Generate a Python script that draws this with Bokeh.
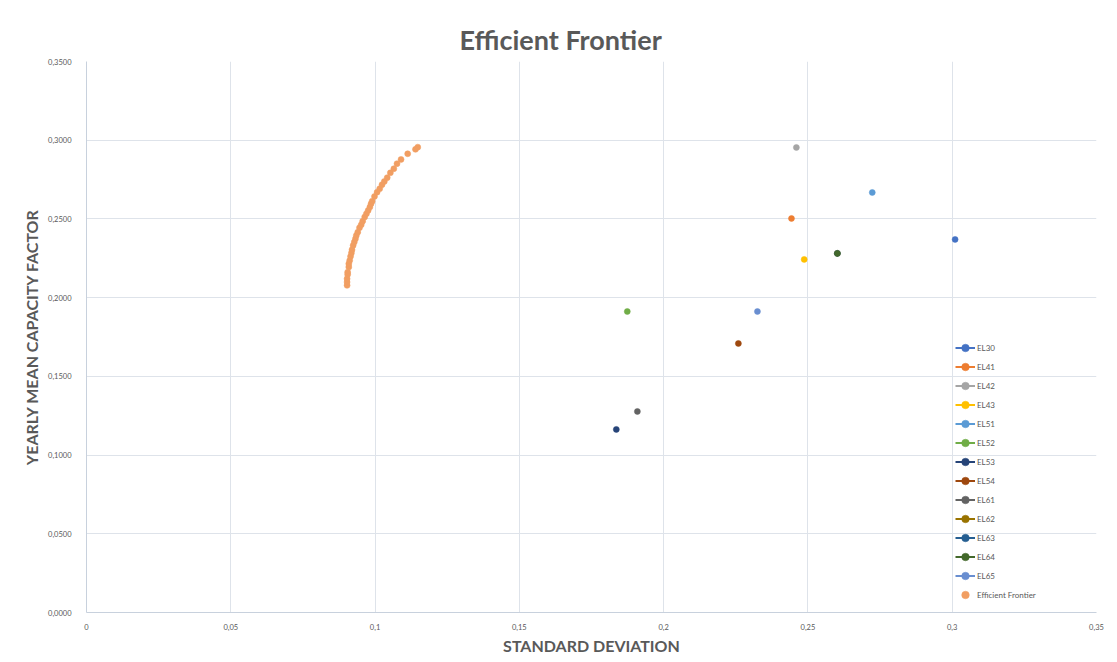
from bokeh.plotting import figure
from bokeh.models import FixedTicker, Range1d, Legend
from bokeh.embed import file_html
from bokeh.resources import INLINE

# ---- data ----
series_names = ["EL30", "EL41", "EL42", "EL43", "EL51", "EL52", "EL53",
                "EL54", "EL61", "EL62", "EL63", "EL64", "EL65"]
series_std = [0.301, 0.2443, 0.246, 0.2487, 0.2723, 0.1874, 0.1836,
              0.2259, 0.1909, 0.2602, 0.2602, 0.2602, 0.2325]
series_mean = [0.237, 0.2503, 0.2954, 0.2243, 0.2668, 0.1912, 0.1163,
               0.1709, 0.1277, 0.2281, 0.2281, 0.2281, 0.1912]
series_colors = ["#4472C4", "#ED7D31", "#A5A5A5", "#FFC000", "#5B9BD5",
                 "#70AD47", "#264478", "#9E480E", "#636363", "#997300",
                 "#255E91", "#43682B", "#698ED0"]

frontier_std = [0.0903, 0.0903, 0.0903, 0.0905, 0.0905, 0.0909, 0.0909, 0.0912,
                0.0915, 0.0918, 0.0920, 0.0924, 0.0928, 0.0932, 0.0935, 0.0940,
                0.0946, 0.0952, 0.0957, 0.0964, 0.0970, 0.0976, 0.0982, 0.0986,
                0.0990, 0.0998, 0.1007, 0.1016, 0.1024, 0.1032, 0.1042, 0.1053,
                0.1065, 0.1076, 0.1090, 0.1113, 0.1140, 0.1148]
frontier_mean = [0.2078, 0.2099, 0.2120, 0.2147, 0.2162, 0.2194, 0.2215, 0.2236,
                 0.2262, 0.2283, 0.2304, 0.2332, 0.2353, 0.2374, 0.2395, 0.2416,
                 0.2444, 0.2463, 0.2486, 0.2512, 0.2533, 0.2554, 0.2575, 0.2596,
                 0.2613, 0.2643, 0.2670, 0.2692, 0.2717, 0.2738, 0.2762, 0.2793,
                 0.2819, 0.2851, 0.2878, 0.2914, 0.2942, 0.2956]

x_ticks = [0, 0.05, 0.1, 0.15, 0.2, 0.25, 0.3, 0.35]
x_tick_labels = ["0", "0,05", "0,1", "0,15", "0,2", "0,25", "0,3", "0,35"]
y_ticks = [0, 0.05, 0.1, 0.15, 0.2, 0.25, 0.3, 0.35]
y_tick_labels = ["0,0000", "0,0500", "0,1000", "0,1500", "0,2000", "0,2500", "0,3000", "0,3500"]

FONT = "Lato"
TXT = "#595959"
GRID = "#DEE3EA"

p = figure(width=1117, height=662, output_backend="svg", toolbar_location=None,
           x_range=Range1d(0, 0.35), y_range=Range1d(0, 0.35),
           min_border_left=86, min_border_right=21, min_border_top=61,
           min_border_bottom=50)
p.outline_line_color = None
p.background_fill_color = "white"
p.border_fill_color = "white"

p.title.text = "Efficient Frontier"
p.title.align = "left"
p.title.offset = 373
p.title.text_font = FONT
p.title.text_font_size = "27px"
p.title.text_font_style = "bold"
p.title.text_color = TXT
p.title.standoff = 12

for ax in (p.xaxis[0], p.yaxis[0]):
    ax.axis_line_color = "#C8D1DD"
    ax.major_tick_line_color = None
    ax.minor_tick_line_color = None
    ax.major_label_text_font = FONT
    ax.major_label_text_font_size = "7.5px"
    ax.major_label_text_color = TXT
    ax.axis_label_text_font = FONT
    ax.axis_label_text_font_size = "16px"
    ax.axis_label_text_font_style = "bold"
    ax.axis_label_text_color = TXT

p.xaxis.ticker = FixedTicker(ticks=x_ticks)
p.xaxis.major_label_overrides = dict(zip(x_ticks, x_tick_labels))
p.yaxis.ticker = FixedTicker(ticks=y_ticks)
p.yaxis.major_label_overrides = dict(zip(y_ticks, y_tick_labels))
p.xaxis.axis_label = "STANDARD DEVIATION"
p.yaxis.axis_label = "YEARLY MEAN CAPACITY FACTOR"
p.xaxis.major_label_standoff = 5
p.xaxis.axis_label_standoff = 3
p.yaxis.major_label_standoff = 9
p.yaxis.axis_label_standoff = 4

p.xgrid.ticker = FixedTicker(ticks=x_ticks)
p.ygrid.ticker = FixedTicker(ticks=y_ticks)
p.grid.grid_line_color = GRID
p.grid.grid_line_width = 1

items = []
for name, xs, ys, c in zip(series_names, series_std, series_mean, series_colors):
    ln = p.line([xs], [ys], line_color=c, line_width=2)
    sc = p.scatter([xs], [ys], size=6, fill_color=c, line_color=c, line_width=0.5)
    items.append((name, [ln, sc]))

fr = p.scatter(frontier_std, frontier_mean, size=6, fill_color="#F19E62",
               line_color="#F19E62", line_width=0.5)
items.append(("Efficient Frontier", [fr]))

legend = Legend(items=items, location=(869, 8), padding=0, margin=0, spacing=0,
                glyph_width=20, glyph_height=19, label_height=19,
                label_standoff=2, background_fill_alpha=0, border_line_alpha=0,
                label_text_font=FONT, label_text_font_size="8px",
                label_text_color=TXT)
p.add_layout(legend, "center")

open("out.html", "w").write(file_html(p, INLINE))
